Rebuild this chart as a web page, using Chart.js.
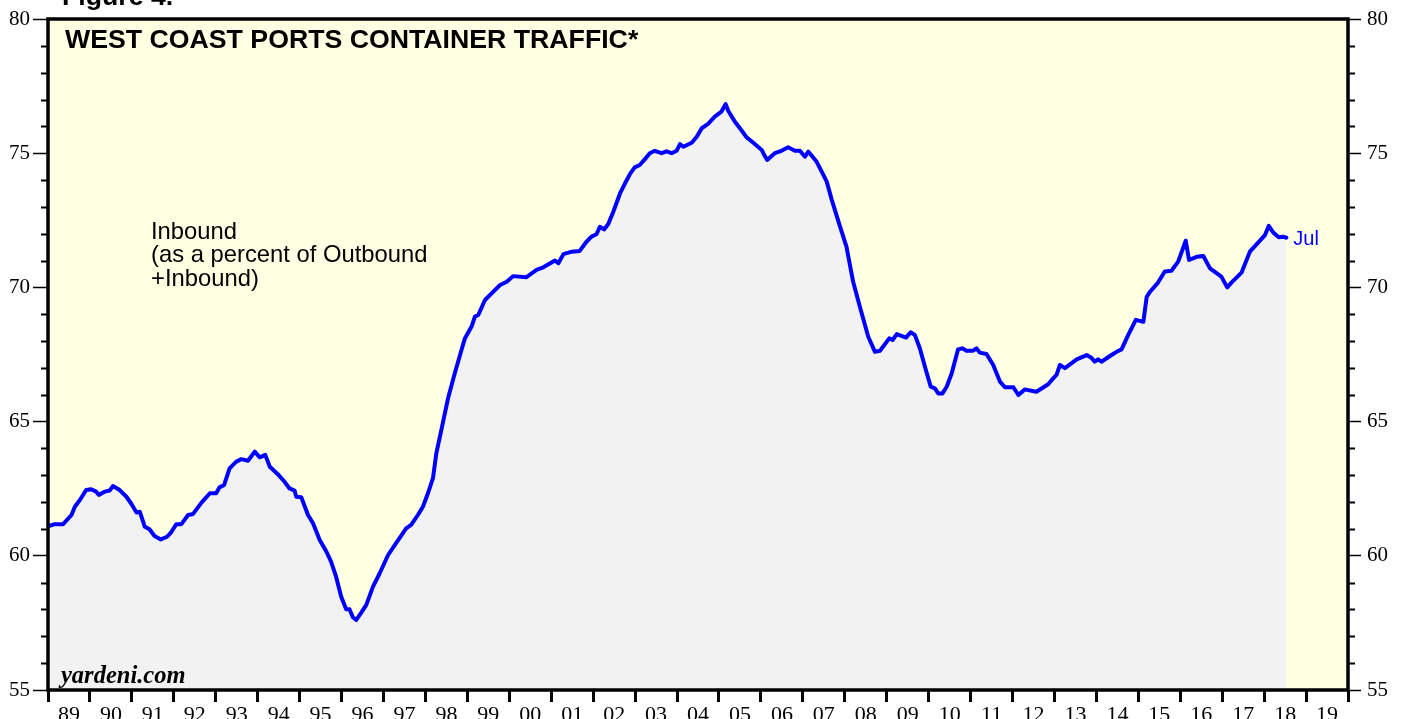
<!DOCTYPE html>
<html>
<head>
<meta charset="utf-8">
<script src="https://cdn.jsdelivr.net/npm/chart.js@4.4.1/dist/chart.umd.min.js"></script>
<style>
  html, body { margin: 0; padding: 0; background: #ffffff; }
  #wrap { width: 1405px; height: 719px; position: relative; overflow: hidden; }
  canvas { display: block; }
</style>
</head>
<body>
<div id="wrap"><canvas id="c" width="1405" height="719"></canvas></div>
<script>
// ---- Data ----
const dates = [
  1989.04,1989.16,1989.36,1989.56,1989.64,1989.76,1989.91,
  1990.03,1990.15,1990.21,1990.35,1990.47,1990.55,1990.71,1990.87,1990.99,
  1991.11,1991.19,1991.31,1991.42,1991.54,1991.69,1991.84,1991.93,
  1992.06,1992.18,1992.34,1992.46,1992.66,1992.86,
  1993.01,1993.09,1993.20,1993.33,1993.49,1993.61,1993.77,1993.93,
  1994.05,1994.18,1994.29,1994.48,1994.64,1994.76,1994.88,1994.92,
  1995.04,1995.20,1995.32,1995.48,1995.64,1995.75,1995.87,1995.99,
  1996.11,1996.19,1996.27,1996.35,1996.47,1996.59,1996.75,1996.91,
  1997.11,1997.30,1997.42,1997.54,1997.66,1997.82,1997.94,
  1998.06,1998.18,1998.26,1998.38,1998.54,1998.70,1998.86,1998.94,
  1999.10,1999.18,1999.26,1999.42,1999.62,1999.78,1999.94,
  2000.09,2000.41,2000.65,2000.81,
  2001.09,2001.17,2001.29,2001.49,2001.68,2001.84,2001.96,
  2002.08,2002.16,2002.26,2002.36,2002.48,2002.64,2002.76,2002.88,2002.99,
  2003.11,2003.23,2003.35,2003.47,2003.63,2003.75,2003.87,2003.99,
  2004.07,2004.15,2004.35,2004.47,2004.59,2004.74,2004.90,
  2005.06,2005.16,2005.22,2005.38,2005.50,2005.66,2005.82,
  2006.02,2006.08,2006.15,2006.33,2006.49,2006.65,2006.81,2006.93,
  2007.05,2007.13,2007.33,2007.45,2007.57,2007.69,2007.88,
  2008.04,2008.20,2008.36,2008.56,2008.72,2008.84,
  2009.06,2009.14,2009.24,2009.46,2009.57,2009.67,2009.79,2009.91,
  2010.05,2010.15,2010.23,2010.33,2010.43,2010.55,2010.70,2010.80,2010.90,
  2011.06,2011.14,2011.22,2011.38,2011.54,2011.70,2011.82,
  2012.02,2012.14,2012.29,2012.57,2012.85,2012.97,
  2013.05,2013.13,2013.25,2013.53,2013.77,2013.88,2013.96,
  2014.04,2014.12,2014.36,2014.48,2014.60,2014.76,2014.94,
  2015.12,2015.20,2015.28,2015.47,2015.63,2015.79,2015.95,
  2016.13,2016.21,2016.39,2016.55,2016.71,2016.98,
  2017.12,2017.22,2017.46,2017.66,
  2018.02,2018.11,2018.22,2018.35,2018.45,2018.53
];
const inbound = [
  61.12,61.18,61.18,61.52,61.83,62.08,62.45,
  62.48,62.39,62.27,62.39,62.43,62.60,62.45,62.20,61.93,
  61.61,61.64,61.08,60.99,60.74,60.61,60.71,60.86,
  61.18,61.18,61.52,61.56,61.98,62.33,
  62.33,62.55,62.64,63.26,63.51,63.60,63.54,63.88,
  63.67,63.76,63.32,63.04,62.76,62.51,62.43,62.20,
  62.18,61.52,61.21,60.59,60.15,59.78,59.22,58.48,
  58.01,58.01,57.71,57.61,57.88,58.17,58.85,59.35,
  60.03,60.47,60.74,61.02,61.15,61.52,61.83,
  62.33,62.89,63.82,64.69,65.87,66.80,67.67,68.10,
  68.54,68.91,68.97,69.53,69.84,70.09,70.21,
  70.42,70.38,70.65,70.75,
  71.00,70.90,71.24,71.33,71.36,71.70,71.89,
  71.98,72.26,72.16,72.36,72.82,73.50,73.88,74.23,74.47,
  74.56,74.77,75.00,75.09,75.00,75.07,75.00,75.09,
  75.34,75.24,75.39,75.61,75.93,76.09,76.36,
  76.55,76.83,76.58,76.17,75.93,75.59,75.39,
  75.12,74.93,74.75,75.00,75.09,75.22,75.09,75.09,
  74.87,75.06,74.68,74.31,73.94,73.26,72.30,
  71.52,70.21,69.28,68.16,67.60,67.64,
  68.10,68.04,68.26,68.13,68.33,68.23,67.73,67.05,
  66.30,66.24,66.05,66.05,66.30,66.80,67.69,67.73,67.64,
  67.64,67.73,67.57,67.52,67.11,66.49,66.28,
  66.28,65.99,66.20,66.11,66.39,66.61,
  66.74,67.11,66.99,67.32,67.48,67.38,67.23,
  67.32,67.23,67.48,67.60,67.69,68.23,68.79,
  68.72,69.65,69.84,70.18,70.59,70.62,70.96,
  71.74,71.02,71.14,71.17,70.71,70.40,
  70.00,70.18,70.55,71.33,
  71.95,72.29,72.04,71.87,71.89,71.85
];
const yearTicks = [1989,1990,1991,1992,1993,1994,1995,1996,1997,1998,1999,2000,2001,2002,2003,2004,2005,2006,2007,2008,2009,2010,2011,2012,2013,2014,2015,2016,2017,2018,2019,2020];
const yearLabels = ['89','90','91','92','93','94','95','96','97','98','99','00','01','02','03','04','05','06','07','08','09','10','11','12','13','14','15','16','17','18','19',''];
const yTicks = [55,60,65,70,75,80];
const yMinorTicks = [56,57,58,59,61,62,63,64,66,67,68,69,71,72,73,74,76,77,78,79];
const lastLabel = 'Jul';

const points = dates.map((d, i) => ({ x: d, y: inbound[i] }));

const SERIF = '"Liberation Serif", "Times New Roman", serif';
const SANS = '"Liberation Sans", Arial, Helvetica, sans-serif';

const decor = {
  id: 'decor',
  beforeDatasetsDraw(chart) {
    const { ctx, chartArea: a } = chart;
    ctx.save();
    ctx.fillStyle = '#FFFFE3';
    ctx.fillRect(a.left, a.top, a.right - a.left, a.bottom - a.top);
    ctx.restore();
  },
  afterDatasetsDraw(chart) {
    const { ctx, chartArea: a, scales } = chart;
    const y = scales.y;
    ctx.save();
    // minor ticks
    ctx.strokeStyle = '#000';
    ctx.lineWidth = 2;
    yMinorTicks.forEach(v => {
      const py = Math.round(y.getPixelForValue(v)) + 0.5;
      ctx.beginPath();
      ctx.moveTo(a.left - 7, py); ctx.lineTo(a.left, py);
      ctx.moveTo(a.right, py); ctx.lineTo(a.right + 7, py);
      ctx.stroke();
    });
    // frame
    ctx.lineWidth = 3.5;
    ctx.strokeRect(a.left, a.top, a.right - a.left, a.bottom - a.top);

    // texts
    ctx.fillStyle = '#000';
    ctx.textBaseline = 'alphabetic';
    ctx.textAlign = 'left';
    ctx.font = 'bold 26.7px ' + SANS;
    ctx.fillText('Figure 4.', 62, 5);
    ctx.fillText('WEST COAST PORTS CONTAINER TRAFFIC*', 65, 48);

    ctx.font = '23.8px ' + SANS;
    ctx.fillText('Inbound', 151, 239);
    ctx.fillText('(as a percent of Outbound', 151, 262);
    ctx.fillText('+Inbound)', 151, 286);

    ctx.font = 'italic bold 24.5px ' + SERIF;
    ctx.fillText('yardeni.com', 61, 683);

    // end label
    const xs = scales.x;
    const lx = xs.getPixelForValue(dates[dates.length - 1]);
    const ly = y.getPixelForValue(inbound[inbound.length - 1]);
    ctx.fillStyle = '#0000FF';
    ctx.font = '20px ' + SANS;
    ctx.textBaseline = 'middle';
    ctx.fillText(lastLabel, lx + 7, ly + 2);
    ctx.restore();
  }
};

new Chart(document.getElementById('c'), {
  type: 'line',
  data: {
    datasets: [{
      data: points,
      borderColor: '#0000FF',
      borderWidth: 4,
      borderJoinStyle: 'round',
      borderCapStyle: 'round',
      pointRadius: 0,
      tension: 0,
      fill: 'start',
      backgroundColor: '#F2F2F2'
    }]
  },
  options: {
    responsive: false,
    animation: false,
    events: [],
    layout: { padding: { top: 19, left: 0, right: 0, bottom: 0 } },
    plugins: { legend: { display: false }, tooltip: { enabled: false }, title: { display: false } },
    scales: {
      x: {
        type: 'linear',
        min: 1989, max: 2020,
        position: 'bottom',
        afterBuildTicks: s => { s.ticks = yearTicks.map(v => ({ value: v })); },
        afterFit: s => { s.height = 29; },
        ticks: {
          autoSkip: false, maxRotation: 0, minRotation: 0,
          padding: 0,
          labelOffset: 21,
          color: '#000',
          font: { family: SERIF, size: 22 },
          callback: (v, i) => yearLabels[i]
        },
        grid: { drawOnChartArea: false, tickLength: 12, tickWidth: 3, tickColor: '#000' },
        border: { display: false }
      },
      y: {
        min: 55, max: 80,
        position: 'left',
        afterBuildTicks: s => { s.ticks = yTicks.map(v => ({ value: v })); },
        afterFit: s => { s.width = 48; },
        ticks: { padding: 3, color: '#000', font: { family: SERIF, size: 21 } },
        grid: { drawOnChartArea: false, tickLength: 15, tickWidth: 1.5, tickColor: '#000' },
        border: { display: false }
      },
      y2: {
        min: 55, max: 80,
        position: 'right',
        afterBuildTicks: s => { s.ticks = yTicks.map(v => ({ value: v })); },
        afterFit: s => { s.width = 57; },
        ticks: { padding: 6, color: '#000', font: { family: SERIF, size: 21 } },
        grid: { drawOnChartArea: false, tickLength: 13, tickWidth: 1.5, tickColor: '#000' },
        border: { display: false }
      }
    }
  },
  plugins: [decor]
});
</script>
</body>
</html>
